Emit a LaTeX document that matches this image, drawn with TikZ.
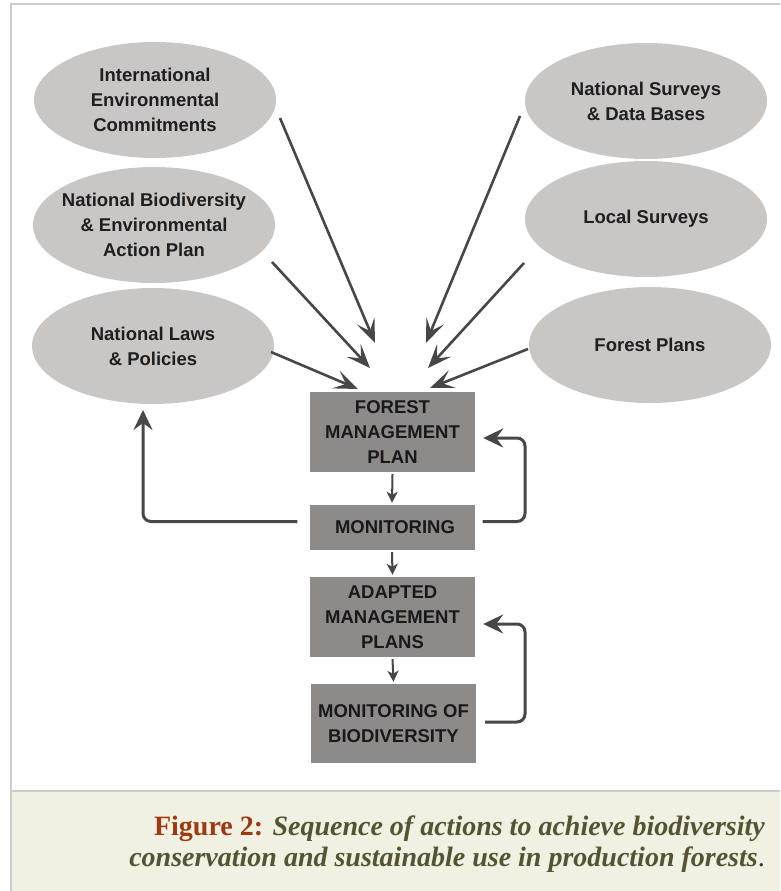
\documentclass[tikz,border=0pt]{standalone}
\usepackage{fontspec}
\setmainfont{Liberation Sans}
\newfontfamily\capfont{Liberation Serif}
\usetikzlibrary{shapes.geometric,arrows.meta}
\definecolor{ellfill}{HTML}{C9C6C6}
\definecolor{boxfill}{HTML}{8D8A8A}
\definecolor{linecol}{HTML}{474747}
\definecolor{framecol}{HTML}{CCCCCC}
\definecolor{capbg}{HTML}{F0F0E3}
\definecolor{figred}{HTML}{9E3A12}
\definecolor{capolive}{HTML}{545433}
\begin{document}
\begin{tikzpicture}[x=1pt,y=-1pt,
  ell/.style={ellipse, fill=ellfill, minimum width=242pt, minimum height=116pt, inner xsep=-20pt, inner ysep=-12pt, align=center, text=black!88, font=\bfseries\fontsize{18.5}{25}\selectfont},
  box/.style={rectangle, fill=boxfill, minimum width=165pt, inner sep=0pt, align=center, text=black!90, font=\bfseries\fontsize{18.5}{25}\selectfont},
  bigarr/.style={draw=linecol, line width=2.6pt, -{Stealth[length=24pt,width=19pt,inset=11pt]}},
  smallarr/.style={draw=linecol, line width=2pt, -{Stealth[length=11pt,width=11pt,inset=3pt]}},
  looparr/.style={draw=linecol, line width=3pt, rounded corners=8pt, -{Stealth[length=20pt,width=19pt,inset=7pt]}},
  captext/.style={font=\capfont\fontsize{28}{32}\selectfont, inner sep=0pt, anchor=base east}
]
\useasboundingbox (0,0) rectangle (780,891);
% frame and caption background
\fill[capbg] (12,792) rectangle (780,891);
\draw[framecol, line width=2pt] (11,891) -- (11,4) -- (780,4);
\draw[framecol, line width=2.5pt] (11,791) -- (780,791);

% ellipses
\node[ell] (e1) at (155,100) {International\\Environmental\\Commitments};
\node[ell] (e2) at (154,225) {National Biodiversity\\\& Environmental\\Action Plan};
\node[ell] (e3) at (153,346) {National Laws\\\& Policies};
\node[ell] (r1) at (646,101) {National Surveys\\\& Data Bases};
\node[ell] (r2) at (646,219) {Local Surveys};
\node[ell] (r3) at (650,345) {Forest Plans};

% boxes
\node[box, minimum height=80pt] (fmp) at (392.5,432) {FOREST\\MANAGEMENT\\PLAN};
\node[box, minimum height=45pt] (mon) at (392,527.5) {\hspace{6pt}MONITORING};
\node[box, minimum height=80pt] (amp) at (392.5,617) {ADAPTED\\MANAGEMENT\\PLANS};
\node[box, minimum height=79pt] (mob) at (393.5,723.5) {MONITORING OF\\BIODIVERSITY};

% free ends of the converging arrows
\coordinate (s1) at (280,118);  \coordinate (t1) at (375,343);
\coordinate (s2) at (272,262);  \coordinate (t2) at (370,368);
\coordinate (s3) at (271,352);  \coordinate (t3) at (358,389);
\coordinate (u1) at (520,116);  \coordinate (v1) at (426,343);
\coordinate (u2) at (524,263);  \coordinate (v2) at (428,368);
\coordinate (u3) at (528,349);  \coordinate (v3) at (430,388);
\draw[bigarr] (s1) -- (t1);
\draw[bigarr] (s2) -- (t2);
\draw[bigarr] (s3) -- (t3);
\draw[bigarr] (u1) -- (v1);
\draw[bigarr] (u2) -- (v2);
\draw[bigarr] (u3) -- (v3);

% vertical flow
\draw[smallarr] ([yshift=-2pt]fmp.south) -- ([yshift=2pt]mon.north);
\draw[smallarr] ([yshift=-2pt]mon.south) -- ([yshift=2pt]amp.north);
\draw[smallarr] ([yshift=-2pt]amp.south) -- ([yshift=2pt]mob.north);

% feedback loops
\coordinate (lt) at (143,410);
\draw[looparr] ([xshift=-12pt,yshift=6pt]mon.west) -| (lt);
\draw[looparr] ([xshift=8pt,yshift=6pt]mon.east) -- (525,521.5) -- (525,438) -- ([xshift=8pt,yshift=-6pt]fmp.east);
\draw[looparr] ([xshift=9pt,yshift=1.5pt]mob.east) -- (525,722) -- (525,624) -- ([xshift=8pt,yshift=-7pt]amp.east);

% caption
\node[captext] (c1) at (765,835) {\textcolor{figred}{\bfseries Figure 2:} \textcolor{capolive}{\bfseries\itshape Sequence of actions to achieve biodiversity}};
\node[captext] (c2) at (765,866) {\textcolor{capolive}{\bfseries\itshape conservation and sustainable use in production forests}\textcolor{black!80}{.}};
\end{tikzpicture}
\end{document}
